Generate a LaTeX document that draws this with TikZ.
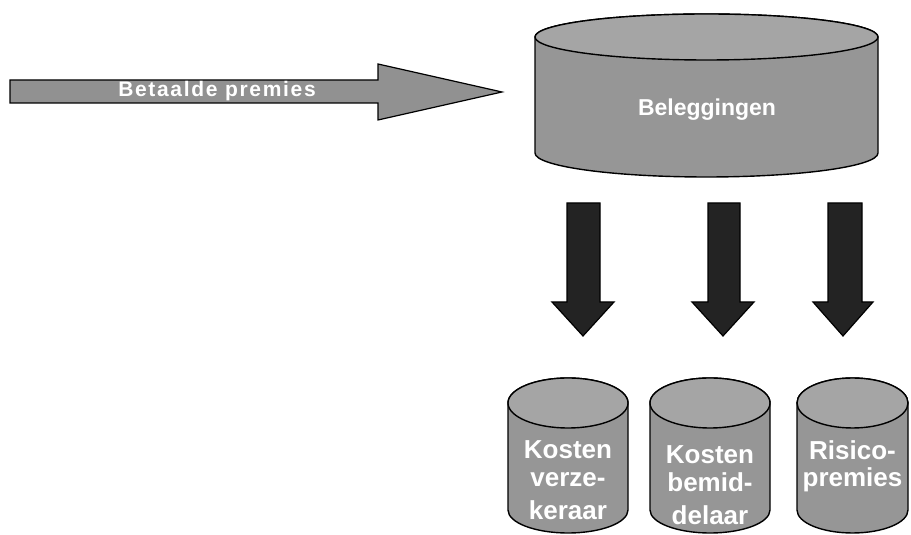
\documentclass[tikz,border=0pt]{standalone}
\usepackage{fontspec}
\setmainfont{Liberation Sans}
\begin{document}
\begin{tikzpicture}[x=1pt,y=1pt,
  shapefill/.style={draw=black,line width=1.4pt,fill=cylgray,line join=round},
  darkarrow/.style={draw=black,line width=1.2pt,fill=arrowdark,line join=miter},
  lbl/.style={text=white,font=\bfseries\fontsize{#1}{#1}\selectfont,inner sep=0pt},
  lbl/.default=26]
\definecolor{cylgray}{RGB}{150,150,150}
\definecolor{topgray}{RGB}{165,165,165}
\definecolor{arrowdark}{RGB}{35,35,35}
\definecolor{arrowgray}{RGB}{145,145,145}
\useasboundingbox (0,0) rectangle (911,535);
% big arrow
\draw[draw=black,line width=1.2pt,fill=arrowgray,line join=miter]
  (10,455) -- (378,455) -- (378,471) -- (502,443) -- (378,415) -- (378,432) -- (10,432) -- cycle;
\node[lbl=21,font=\bfseries\fontsize{21}{21}\selectfont\addfontfeature{LetterSpace=8}] (premies) at (217,444) {Betaalde premies};
% cylinders
\newcommand\mycyl[6]{% cx, rx, topY, ryTop, botY, ryBot
  \filldraw[shapefill] (#1-#2,#3) -- (#1-#2,#5) arc (180:360:#2 and #6) -- (#1+#2,#3) arc (0:180:#2 and #4) -- cycle;
  \filldraw[shapefill,fill=topgray] (#1,#3) ellipse (#2 and #4);}
\mycyl{706.5}{171.5}{498}{23}{382}{24}
\node[lbl=23] (beleg) at (707,425) {Beleggingen};
% down arrows
\newcommand\mydownarrow[4]{% shaft left, shaft right, head left, head right
  \filldraw[darkarrow] (#1,332) -- (#2,332) -- (#2,233) -- (#4,233) -- ({(#3+#4)/2},199) -- (#3,233) -- (#1,233) -- cycle;}
\mydownarrow{567}{600}{552}{614}
\mydownarrow{708}{740}{692}{754}
\mydownarrow{828}{862}{813}{873}
% small cylinders
\mycyl{568}{60}{132}{25}{25}{23}
\mycyl{710}{60}{132}{25}{25}{23}
\mycyl{852.5}{55.5}{132}{25}{25}{23}
\node[lbl] (k1a) at (568,85) {Kosten};
\node[lbl] (k1b) at (568,55) {verze-};
\node[lbl] (k1c) at (568,25) {keraar};
\node[lbl] (k2a) at (710,80) {Kosten};
\node[lbl] (k2b) at (710,53) {bemid-};
\node[lbl] (k2c) at (710,20) {delaar};
\node[lbl] (r3a) at (852.5,85) {Risico-};
\node[lbl] (r3b) at (852.5,55) {premies};
\end{tikzpicture}
\end{document}
